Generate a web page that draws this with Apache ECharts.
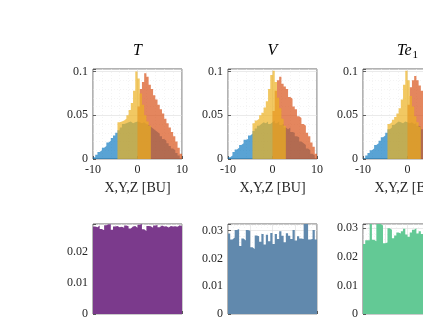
<!DOCTYPE html>
<html>
<head>
<meta charset="utf-8">
<script src="https://cdn.jsdelivr.net/npm/echarts@6/dist/echarts.min.js"></script>
<style>
  html, body { margin: 0; padding: 0; background: #fff; }
  #myChart { width: 423px; height: 321px; }
</style>
</head>
<body>
<div id="myChart"></div>
<script>
// top row: histograms of X (blue), Y (orange), Z (yellow), bin width 0.5
var binWidth = 0.5;
var titles = ['T', 'V', 'Te1'];
var xTicks = [-10, 0, 10];
var yTicksTop = [0, 0.05, 0.1];

// X, starts at -10
var tBlue = [0.002,0.005,0.008,0.010,0.013,0.015,0.019,0.021,0.024,0.027,0.030,0.033,0.036,0.040,0.041,0.042,0.043,0.041,0.042,0.043,
             0.042,0.041,0.042,0.040,0.039,0.037,0.035,0.033,0.031,0.029,0.026,0.023,0.021,0.018,0.015,0.012,0.010,0.007,0.004,0.001];
var vBlue = [0.002,0.004,0.008,0.011,0.013,0.016,0.018,0.022,0.023,0.027,0.029,0.032,0.035,0.038,0.040,0.042,0.041,0.043,0.040,0.042,
             0.044,0.041,0.043,0.039,0.040,0.036,0.034,0.036,0.031,0.030,0.026,0.025,0.020,0.018,0.016,0.012,0.010,0.006,0.004,0.001];
var teBlue = [0.001,0.004,0.007,0.010,0.012,0.016,0.018,0.021,0.025,0.027,0.030,0.034,0.036,0.039,0.041,0.043,0.042,0.041,0.043,0.042,
              0.041,0.042,0.040,0.041,0.038,0.037,0.034,0.033,0.030,0.028,0.025,0.023,0.020,0.017,0.015,0.012,0.009,0.006,0.004,0.001];
// Y, starts at 0
var tOrange = [0.060,0.080,0.088,0.098,0.094,0.085,0.080,0.073,0.068,0.062,0.057,0.052,0.046,0.041,0.036,0.031,0.026,0.020,0.013,0.006];
var vOrange = [0.055,0.078,0.090,0.094,0.086,0.083,0.080,0.071,0.069,0.060,0.057,0.049,0.047,0.040,0.038,0.030,0.026,0.019,0.014,0.006];
var teOrange = [0.062,0.082,0.090,0.095,0.090,0.084,0.078,0.072,0.066,0.061,0.055,0.050,0.045,0.040,0.035,0.030,0.025,0.019,0.013,0.006];
// Z, starts at -4.5
var tYellow = [0.042,0.043,0.044,0.046,0.050,0.056,0.064,0.078,0.100,0.092,0.075,0.062,0.050,0.043,0.038];
var vYellow = [0.041,0.044,0.046,0.050,0.053,0.059,0.066,0.080,0.096,0.101,0.088,0.070,0.058,0.046,0.038];
var teYellow = [0.040,0.042,0.045,0.048,0.052,0.058,0.068,0.085,0.101,0.090,0.072,0.060,0.049,0.042,0.037];
var blueStart = -10, orangeStart = 0, yellowStart = -4.5;

// bottom row: uniform histograms, 40 bins on [0,1]
var bottomBin = 0.025;
var purpleBars = [0.0280,0.0278,0.0283,0.0272,0.0268,0.0284,0.0287,0.0287,0.0270,0.0280,0.0282,0.0278,0.0279,0.0276,0.0283,0.0281,0.0274,0.0280,0.0282,0.0276,
                  0.0286,0.0288,0.0271,0.0266,0.0282,0.0281,0.0276,0.0283,0.0285,0.0278,0.0283,0.0280,0.0281,0.0277,0.0282,0.0280,0.0281,0.0279,0.0284,0.0281];
var steelBars = [0.0290,0.0268,0.0275,0.0302,0.0306,0.0245,0.0272,0.0265,0.0302,0.0300,0.0240,0.0234,0.0283,0.0280,0.0260,0.0288,0.0250,0.0285,0.0262,0.0292,
                 0.0252,0.0288,0.0270,0.0298,0.0282,0.0258,0.0291,0.0282,0.0270,0.0302,0.0265,0.0280,0.0272,0.0270,0.0324,0.0324,0.0268,0.0270,0.0302,0.0268];
var greenBars = [0.0245,0.0258,0.0258,0.0315,0.0260,0.0255,0.0315,0.0315,0.0310,0.0248,0.0250,0.0300,0.0295,0.0265,0.0275,0.0285,0.0282,0.0290,0.0298,0.0278,
                 0.0270,0.0285,0.0295,0.0300,0.0282,0.0290,0.0280,0.0286,0.0292,0.0276,0.0288,0.0281,0.0279,0.0290,0.0284,0.0276,0.0286,0.0292,0.0280,0.0285];
var yTicksBottom = [0, 0.01, 0.02, 0.03];

var font = 'Liberation Serif';
var ink = '#262626';

// stairs: points at the left bin edges, plus the last right edge
function stairs(values, start, width) {
	var d = [];
	for (var i = 0; i < values.length; i++) {
		d.push([start + i * width, values[i]]);
	}
	d.push([start + values.length * width, values[values.length - 1]]);
	return d;
}

function histSeries(idx, values, start, width, color, alpha) {
	return {
		type: 'line',
		xAxisIndex: idx,
		yAxisIndex: idx,
		step: 'end',
		showSymbol: false,
		silent: true,
		lineStyle: { opacity: 0 },
		areaStyle: { color: color, opacity: alpha },
		data: stairs(values, start, width)
	};
}

function onlyTicks(list) {
	return function(v) {
		for (var i = 0; i < list.length; i++) {
			if (Math.abs(v - list[i]) < 1e-9) return String(list[i]);
		}
		return '';
	};
}

var lefts = [93, 228, 363];
var grids = [], xAxes = [], yAxes = [], series = [];

for (var k = 0; k < 6; k++) {
	var isTop = k < 3;
	grids.push({
		left: lefts[k % 3], top: isTop ? 69 : 224, width: 89, height: 90,
		outerBoundsMode: 'none',
		show: true, borderColor: ink, borderWidth: 0.7, containLabel: false
	});
	xAxes.push({
		gridIndex: k, type: 'value',
		min: isTop ? -10 : 0, max: isTop ? 10 : 1, interval: isTop ? 10 : 0.25,
		name: isTop ? 'X,Y,Z [BU]' : '', nameLocation: 'middle', nameGap: 22,
		nameTextStyle: { fontFamily: font, fontSize: 14, color: ink },
		axisLine: { show: false, onZero: false },
		axisTick: { show: true, inside: true, length: 3, lineStyle: { color: ink, width: 0.7 } },
		axisLabel: {
			show: isTop, fontFamily: font, fontSize: 12, color: ink, margin: 5,
			formatter: onlyTicks(xTicks)
		},
		splitLine: { show: true, lineStyle: { color: '#dcdcdc', width: 0.6 } },
		minorTick: { show: false, splitNumber: isTop ? 5 : 4 },
		minorSplitLine: { show: true, lineStyle: { color: '#ececec', width: 0.6, type: [1, 2] } }
	});
	var ymax = [0.103, 0.103, 0.103, 0.0288, 0.0324, 0.0315][k];
	yAxes.push({
		gridIndex: k, type: 'value',
		min: 0, max: ymax, interval: isTop ? 0.05 : 0.01,
		axisLine: { show: false, onZero: false },
		axisTick: { show: true, inside: true, length: 3, lineStyle: { color: ink, width: 0.7 } },
		axisLabel: {
			fontFamily: font, fontSize: 12, color: ink, margin: 5,
			formatter: onlyTicks(isTop ? yTicksTop : yTicksBottom)
		},
		splitLine: { show: true, lineStyle: { color: '#dcdcdc', width: 0.6 } },
		minorTick: { show: false, splitNumber: 5 },
		minorSplitLine: { show: true, lineStyle: { color: '#ececec', width: 0.6, type: [1, 2] } }
	});
}

var blues = [tBlue, vBlue, teBlue];
var oranges = [tOrange, vOrange, teOrange];
var yellows = [tYellow, vYellow, teYellow];
for (var p = 0; p < 3; p++) {
	series.push(histSeries(p, blues[p], blueStart, binWidth, '#0072BD', 0.65));
	series.push(histSeries(p, oranges[p], orangeStart, binWidth, '#D95319', 0.7));
	series.push(histSeries(p, yellows[p], yellowStart, binWidth, '#EDB120', 0.7));
}
series.push(histSeries(3, purpleBars, 0, bottomBin, '#7B3A8C', 1));
series.push(histSeries(4, steelBars, 0, bottomBin, '#6189AD', 1));
series.push(histSeries(5, greenBars, 0, bottomBin, '#63C995', 1));

// panel titles
var graphics = [];
for (var t = 0; t < 3; t++) {
	var cx = lefts[t] + 44.5;
	if (titles[t] === 'Te1') {
		graphics.push({
			type: 'text', x: cx, y: 51,
			style: {
				text: '{a|Te}{b|1}', align: 'center', verticalAlign: 'middle',
				rich: {
					a: { fontFamily: font, fontStyle: 'italic', fontSize: 16, fill: '#000' },
					b: { fontFamily: font, fontSize: 11, fill: '#000', padding: [8, 0, 0, 1] }
				}
			}
		});
	} else {
		graphics.push({
			type: 'text', x: cx, y: 51,
			style: { text: titles[t], fontFamily: font, fontStyle: 'italic', fontSize: 16, fill: '#000', align: 'center', verticalAlign: 'middle' }
		});
	}
}

var myChart = echarts.init(document.getElementById('myChart'));
myChart.setOption({
	animation: false,
	backgroundColor: '#fff',
	grid: grids,
	xAxis: xAxes,
	yAxis: yAxes,
	series: series,
	graphic: graphics
});
</script>
</body>
</html>
